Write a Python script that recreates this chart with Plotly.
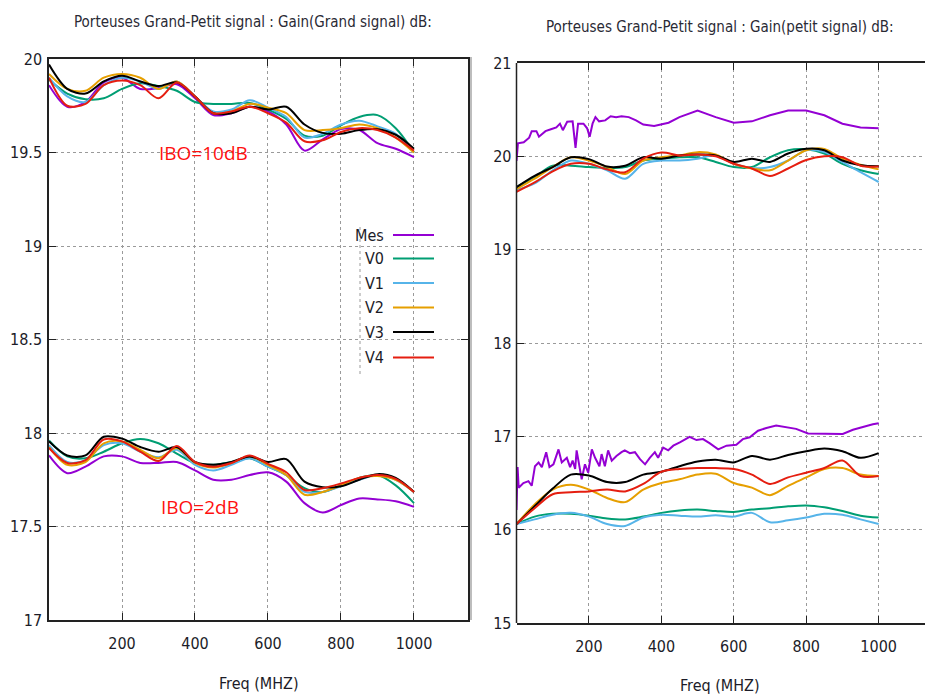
import plotly.graph_objects as go

W, H = 925, 695

# ---------------- data ----------------
freq = [0, 50, 100, 150, 200, 250, 300, 350, 400, 450, 500,
        550, 600, 650, 700, 750, 800, 850, 900, 950, 1000]
series_names = ["Mes", "V0", "V1", "V2", "V3", "V4"]
colors = ["#9400D3", "#009E73", "#56B4E9", "#E69F00", "#000000", "#E51E10"]

# Left panel: Gain (grand signal), IBO = 10 dB
grand_ibo10_mes = [19.86, 19.745, 19.77, 19.875, 19.90, 19.84, 19.845, 19.865, 19.79, 19.70, 19.71,
                   19.745, 19.72, 19.65, 19.51, 19.57, 19.625, 19.62, 19.55, 19.52, 19.475]
grand_ibo10_v0 = [19.89, 19.815, 19.785, 19.79, 19.84, 19.87, 19.855, 19.83, 19.77, 19.76, 19.76,
                  19.765, 19.73, 19.68, 19.59, 19.59, 19.645, 19.69, 19.70, 19.63, 19.50]
grand_ibo10_v1 = [19.90, 19.80, 19.77, 19.86, 19.90, 19.88, 19.84, 19.88, 19.80, 19.72, 19.73,
                  19.78, 19.74, 19.69, 19.58, 19.60, 19.65, 19.67, 19.64, 19.60, 19.50]
grand_ibo10_v2 = [19.92, 19.84, 19.83, 19.90, 19.92, 19.90, 19.84, 19.88, 19.80, 19.71, 19.72,
                  19.76, 19.74, 19.71, 19.62, 19.62, 19.63, 19.65, 19.63, 19.58, 19.50]
grand_ibo10_v3 = [19.97, 19.84, 19.815, 19.88, 19.91, 19.88, 19.855, 19.875, 19.80, 19.71, 19.71,
                  19.745, 19.73, 19.745, 19.65, 19.605, 19.60, 19.62, 19.625, 19.595, 19.52]
grand_ibo10_v4 = [19.90, 19.75, 19.76, 19.86, 19.885, 19.86, 19.79, 19.875, 19.80, 19.71, 19.72,
                  19.745, 19.71, 19.66, 19.56, 19.565, 19.61, 19.63, 19.62, 19.58, 19.51]

# Left panel: Gain (grand signal), IBO = 2 dB
grand_ibo2_mes = [17.88, 17.785, 17.82, 17.875, 17.875, 17.84, 17.84, 17.845, 17.80, 17.75, 17.75,
                  17.775, 17.79, 17.74, 17.625, 17.575, 17.615, 17.65, 17.645, 17.635, 17.605]
grand_ibo2_v0 = [17.96, 17.875, 17.865, 17.90, 17.945, 17.968, 17.945, 17.89, 17.84, 17.83, 17.845,
                 17.865, 17.82, 17.775, 17.705, 17.685, 17.72, 17.76, 17.775, 17.72, 17.625]
grand_ibo2_v1 = [17.935, 17.845, 17.855, 17.935, 17.945, 17.90, 17.87, 17.91, 17.83, 17.80, 17.83,
                 17.865, 17.82, 17.775, 17.685, 17.685, 17.715, 17.75, 17.775, 17.75, 17.685]
grand_ibo2_v2 = [17.925, 17.83, 17.845, 17.945, 17.955, 17.91, 17.865, 17.92, 17.84, 17.815, 17.84,
                 17.875, 17.83, 17.775, 17.67, 17.685, 17.72, 17.76, 17.77, 17.75, 17.685]
grand_ibo2_v3 = [17.955, 17.88, 17.88, 17.98, 17.97, 17.925, 17.90, 17.925, 17.845, 17.83, 17.845,
                 17.875, 17.845, 17.86, 17.74, 17.71, 17.715, 17.75, 17.78, 17.76, 17.685]
grand_ibo2_v4 = [17.92, 17.84, 17.855, 17.965, 17.955, 17.90, 17.85, 17.93, 17.845, 17.82, 17.84,
                 17.88, 17.835, 17.79, 17.695, 17.705, 17.73, 17.76, 17.775, 17.755, 17.685]

# Right panel: Gain (petit signal), upper group
petit_hi_mes_freq = [0, 4, 20, 35, 42, 55, 62, 80, 95, 110, 120, 128, 140, 155, 163, 170, 185, 195,
                     202, 210, 218, 228, 245, 260, 275, 290, 310, 330, 350, 380, 420, 450, 500, 550,
                     600, 650, 700, 750, 800, 850, 900, 950, 1000]
petit_hi_mes = [19.95, 20.14, 20.15, 20.20, 20.27, 20.27, 20.21, 20.27, 20.29, 20.31, 20.35, 20.28,
                20.37, 20.375, 20.09, 20.35, 20.35, 20.30, 20.21, 20.35, 20.42, 20.375, 20.385, 20.43,
                20.42, 20.43, 20.42, 20.385, 20.34, 20.325, 20.36, 20.42, 20.49, 20.42, 20.36, 20.375,
                20.44, 20.49, 20.49, 20.44, 20.35, 20.31, 20.30]
petit_hi_v0 = [19.67, 19.78, 19.90, 19.90, 19.885, 19.875, 19.885, 19.955, 19.975, 19.99, 19.99,
               19.94, 19.885, 19.885, 19.99, 20.065, 20.075, 20.03, 19.92, 19.85, 19.81]
petit_hi_v1 = [19.64, 19.71, 19.85, 19.955, 19.92, 19.85, 19.76, 19.92, 19.955, 19.955, 19.975,
               20.01, 19.92, 19.875, 19.885, 19.955, 20.065, 20.045, 19.94, 19.83, 19.725]
petit_hi_v2 = [19.65, 19.76, 19.885, 19.99, 19.955, 19.885, 19.81, 19.955, 19.99, 20.01, 20.045,
               20.02, 19.92, 19.87, 19.85, 19.955, 20.065, 20.08, 19.975, 19.91, 19.86]
petit_hi_v3 = [19.67, 19.79, 19.885, 19.99, 19.97, 19.89, 19.90, 19.99, 19.975, 20.01, 20.02,
               20.01, 19.94, 19.975, 19.94, 20.03, 20.08, 20.065, 19.955, 19.905, 19.895]
petit_hi_v4 = [19.62, 19.72, 19.84, 19.92, 19.92, 19.86, 19.83, 19.975, 20.04, 20.01, 20.02,
               20.00, 19.92, 19.87, 19.79, 19.87, 19.96, 20.00, 19.99, 19.90, 19.89]

# Right panel: Gain (petit signal), lower group
petit_lo_mes_freq = [0, 3, 6, 19, 33, 42, 51, 61, 70, 82, 91, 102, 116, 125, 139, 148, 155, 162,
                     166, 174, 180, 189, 198, 208, 217, 229, 235, 244, 253, 263, 276, 290, 299, 313,
                     327, 341, 355, 368, 382, 391, 405, 419, 433, 451, 478, 497, 515, 534, 557, 580,
                     607, 625, 644, 667, 690, 717, 745, 772, 805, 828, 864, 901, 929, 956, 984, 1000]
petit_lo_mes = [16.21, 16.67, 16.45, 16.50, 16.52, 16.47, 16.68, 16.72, 16.67, 16.83, 16.67, 16.70,
                16.86, 16.72, 16.77, 16.67, 16.74, 16.65, 16.85, 16.67, 16.54, 16.70, 16.61, 16.86,
                16.77, 16.68, 16.81, 16.68, 16.85, 16.74, 16.79, 16.83, 16.85, 16.82, 16.83, 16.755,
                16.70, 16.77, 16.83, 16.77, 16.88, 16.85, 16.90, 16.935, 16.995, 16.96, 16.97, 16.925,
                16.86, 16.90, 16.91, 16.97, 16.99, 17.06, 17.09, 17.115, 17.10, 17.08, 17.03, 17.03,
                17.03, 17.025, 17.07, 17.10, 17.13, 17.14]
petit_lo_v0 = [16.06, 16.14, 16.17, 16.17, 16.15, 16.12, 16.11, 16.14, 16.18, 16.205, 16.215,
               16.20, 16.19, 16.215, 16.23, 16.25, 16.26, 16.24, 16.20, 16.15, 16.13]
petit_lo_v1 = [16.06, 16.11, 16.16, 16.18, 16.14, 16.06, 16.04, 16.13, 16.16, 16.15, 16.14,
               16.155, 16.14, 16.18, 16.08, 16.10, 16.13, 16.17, 16.16, 16.11, 16.06]
petit_lo_v2 = [16.06, 16.27, 16.43, 16.48, 16.43, 16.34, 16.295, 16.43, 16.50, 16.54, 16.59,
               16.60, 16.50, 16.45, 16.37, 16.47, 16.56, 16.65, 16.66, 16.59, 16.575]
petit_lo_v3 = [16.06, 16.25, 16.44, 16.59, 16.58, 16.51, 16.51, 16.59, 16.62, 16.68, 16.73,
               16.75, 16.72, 16.79, 16.75, 16.80, 16.84, 16.87, 16.84, 16.77, 16.82]
petit_lo_v4 = [16.06, 16.23, 16.38, 16.40, 16.41, 16.43, 16.41, 16.49, 16.62, 16.65, 16.66,
               16.66, 16.65, 16.59, 16.49, 16.56, 16.61, 16.66, 16.74, 16.575, 16.575]

x_ticks = [200, 400, 600, 800, 1000]
left_y_ticks = [17, 17.5, 18, 18.5, 19, 19.5, 20]
right_y_ticks = [15, 16, 17, 18, 19, 20, 21]
left_title = "Porteuses Grand-Petit signal : Gain(Grand signal) dB:"
right_title = "Porteuses Grand-Petit signal : Gain(petit signal) dB:"
x_label = "Freq (MHZ)"

# ---------------- figure ----------------
def px(x):
    return x / W

def py(y):
    return 1 - y / H

FONT = "DejaVu Sans Condensed, Liberation Sans Narrow, Liberation Sans, sans-serif"
TXT = "#1c1c28"
RED_FONT = "Open Sans, Liberation Sans, sans-serif"

fig = go.Figure()

left_groups = [
    [grand_ibo10_mes, grand_ibo10_v0, grand_ibo10_v1, grand_ibo10_v2, grand_ibo10_v3, grand_ibo10_v4],
    [grand_ibo2_mes, grand_ibo2_v0, grand_ibo2_v1, grand_ibo2_v2, grand_ibo2_v3, grand_ibo2_v4],
]
for grp in left_groups:
    for name, col, ys in zip(series_names, colors, grp):
        fig.add_trace(go.Scatter(x=freq, y=ys, mode="lines", name=name, showlegend=False,
                                 line=dict(color=col, width=2, shape="spline", smoothing=0.9),
                                 xaxis="x", yaxis="y"))

right_groups = [
    ([petit_hi_mes_freq] + [freq] * 5,
     [petit_hi_mes, petit_hi_v0, petit_hi_v1, petit_hi_v2, petit_hi_v3, petit_hi_v4]),
    ([petit_lo_mes_freq] + [freq] * 5,
     [petit_lo_mes, petit_lo_v0, petit_lo_v1, petit_lo_v2, petit_lo_v3, petit_lo_v4]),
]
for xs_list, ys_list in right_groups:
    for i, (name, col) in enumerate(zip(series_names, colors)):
        shape = "linear" if i == 0 else "spline"
        fig.add_trace(go.Scatter(x=xs_list[i], y=ys_list[i], mode="lines", name=name,
                                 showlegend=False,
                                 line=dict(color=col, width=2, shape=shape, smoothing=0.9),
                                 xaxis="x2", yaxis="y2"))

axis_common = dict(linecolor="#222222", linewidth=1.5, automargin=False,
                   ticks="inside", ticklen=7, tickwidth=1.3, tickcolor="#222222",
                   showgrid=True, gridcolor="#9a9a9a", griddash="dot", gridwidth=1,
                   zeroline=False, tickfont=dict(family=FONT, size=16, color=TXT))

left_dom_y = [py(620), py(59)]
right_dom_y = [py(623), py(63)]

fig.update_layout(
    width=W, height=H, autosize=False,
    margin=dict(l=0, r=0, t=0, b=0, autoexpand=False),
    paper_bgcolor="white", plot_bgcolor="white",
    showlegend=False,
    xaxis=dict(domain=[px(49), px(468)], range=[0, 1148], tickvals=x_ticks, showline=True,
               mirror="ticks", anchor="y", ticklabelstandoff=8, **axis_common),
    yaxis=dict(domain=left_dom_y, range=[17, 20], tickvals=left_y_ticks, showline=True,
               mirror="ticks", anchor="x", ticklabelstandoff=2, **axis_common),
    xaxis2=dict(domain=[px(516.5), 1.0], range=[0, 1128], tickvals=x_ticks, showline=True,
                mirror="ticks", anchor="y2", ticklabelstandoff=8, **axis_common),
    yaxis2=dict(domain=right_dom_y, range=[15, 21], tickvals=right_y_ticks, showline=False,
                mirror=False, anchor="x2", ticklabelstandoff=4, **axis_common),
)

def label(text, x, y, size, family=FONT, color=TXT, xanchor="center"):
    return dict(text=text, x=px(x), y=py(y), xref="paper", yref="paper",
                xanchor=xanchor, yanchor="middle", showarrow=False,
                font=dict(family=family, size=size, color=color))

annotations = [
    label(left_title, 253, 22, 15, color="#2a2a35"),
    label(right_title, 720, 27, 15, color="#2a2a35"),
    label(x_label, 259, 683, 16),
    label(x_label, 720, 685, 16),
    label("IBO=10dB", 203, 153, 19, family=RED_FONT, color="#ff1010"),
    label("IBO=2dB", 200, 507, 19, family=RED_FONT, color="#ff1010"),
]

shapes = [
    # legend background
    dict(type="rect", xref="paper", yref="paper", x0=px(360), x1=px(438), y0=py(374), y1=py(218),
         fillcolor="white", line=dict(width=0), layer="between"),
    dict(type="line", xref="paper", yref="paper", x0=px(360), x1=px(360), y0=py(374), y1=py(226),
         line=dict(color="#9a9a9a", width=1, dash="dot")),
    # separator between panels
    dict(type="line", xref="paper", yref="paper", x0=px(471), x1=px(471), y0=py(620), y1=py(57),
         line=dict(color="#bdbdbd", width=2)),
    # left spine of right panel
    dict(type="line", xref="x2 domain", yref="y2 domain", x0=0, x1=0, y0=0, y1=1,
         line=dict(color="#222222", width=1.5), layer="above"),
]

legend_y = [235, 258.5, 283, 307.5, 332, 357.5]
for name, col, ly in zip(series_names, colors, legend_y):
    annotations.append(label(name, 386, ly, 16, xanchor="right"))
    shapes.append(dict(type="line", xref="paper", yref="paper", x0=px(393), x1=px(434),
                       y0=py(ly), y1=py(ly), line=dict(color=col, width=2)))

fig.update_layout(annotations=annotations, shapes=shapes)

fig.write_html(
    "out.html",
    config={"responsive": False, "displayModeBar": False},
    post_script="document.body.style.margin='0px';document.body.style.overflow='hidden';",
)
